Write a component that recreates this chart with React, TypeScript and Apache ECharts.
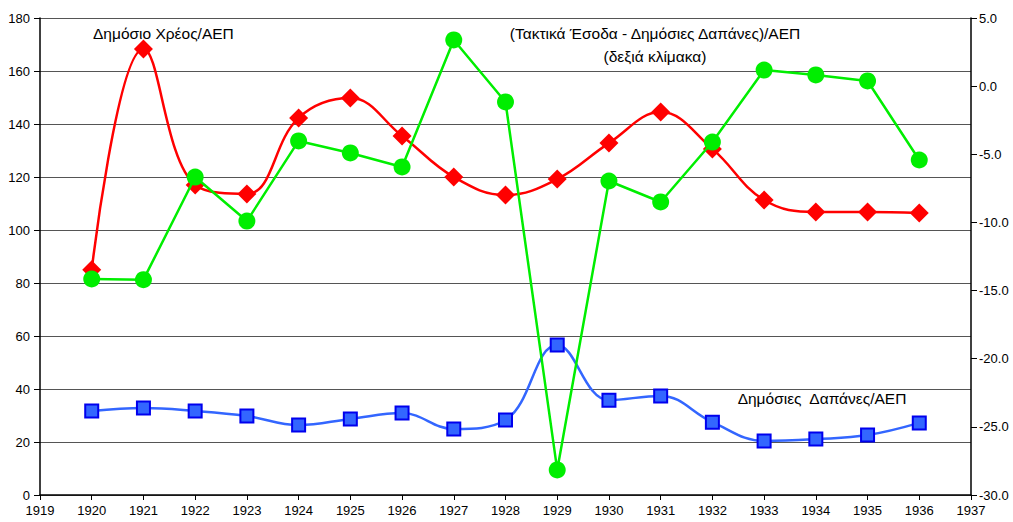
import React, { useEffect, useRef } from "react";
import * as echarts from "echarts";

const years = [1920, 1921, 1922, 1923, 1924, 1925, 1926, 1927, 1928, 1929, 1930, 1931, 1932, 1933, 1934, 1935, 1936];
const debtGdp = [85, 168.3, 117, 113.6, 142.3, 149.8, 135.5, 120, 113.2, 119.2, 132.8, 144.5, 130.6, 111.3, 106.8, 106.8, 106.4];
const spendingGdp = [31.7, 32.8, 31.7, 29.8, 26.4, 28.7, 30.9, 24.9, 28.3, 56.6, 35.8, 37.4, 27.5, 20.4, 21.1, 22.6, 27.2];
const balanceGdp = [-14.15, -14.2, -6.67, -9.9, -4.02, -4.9, -5.93, 3.39, -1.16, -28.16, -6.96, -8.5, -4.1, 1.18, 0.82, 0.38, -5.42];

const labelDebt = "Δημόσιο Χρέος/ΑΕΠ";
const labelBalance1 = "(Τακτικά Έσοδα - Δημόσιες Δαπάνες)/ΑΕΠ";
const labelBalance2 = "(δεξιά κλίμακα)";
const labelSpending = "Δημόσιες  Δαπάνες/ΑΕΠ";

const FONT = "Liberation Sans, Arial, sans-serif";

export default function App() {
  const ref = useRef<HTMLDivElement>(null);
  useEffect(() => {
    if (!ref.current) return;
    const chart = echarts.init(ref.current, undefined, { renderer: "svg" });
    const pair = (vals: number[]) => years.map((y, i) => [y, vals[i]]);
    chart.setOption({
      animation: false,
      backgroundColor: "#ffffff",
      textStyle: { fontFamily: FONT },
      grid: { left: 40, right: 42, top: 18, bottom: 27, containLabel: false },
      xAxis: {
        type: "value",
        min: 1919,
        max: 1937,
        interval: 1,
        axisLine: { show: true, lineStyle: { color: "#000", width: 1.5 } },
        axisTick: { show: true, length: 5, lineStyle: { color: "#000" } },
        axisLabel: { color: "#000", fontSize: 13, fontFamily: FONT, margin: 9, formatter: (v: number) => String(v) },
        splitLine: { show: false },
      },
      yAxis: [
        {
          type: "value",
          min: 0,
          max: 180,
          interval: 20,
          axisLine: { show: true, lineStyle: { color: "#000", width: 1.5 } },
          axisTick: { show: true, length: 6, lineStyle: { color: "#000" } },
          axisLabel: { color: "#000", fontSize: 13, fontFamily: FONT, margin: 10 },
          splitLine: { show: true, lineStyle: { color: "#555", width: 1.2 } },
        },
        {
          type: "value",
          min: -30,
          max: 5,
          interval: 5,
          position: "right",
          axisLine: { show: true, lineStyle: { color: "#000", width: 1.5 } },
          axisTick: { show: true, length: 6, lineStyle: { color: "#000" } },
          axisLabel: { color: "#000", fontSize: 13, fontFamily: FONT, margin: 8, formatter: (v: number) => v.toFixed(1) },
          splitLine: { show: false },
        },
      ],
      series: [
        {
          name: labelSpending,
          type: "line",
          yAxisIndex: 0,
          data: pair(spendingGdp),
          smooth: 0.4,
          symbol: "rect",
          symbolSize: 13,
          lineStyle: { color: "#3366ff", width: 2.5 },
          itemStyle: { color: "#3366ff", borderColor: "#0000ee", borderWidth: 2 },
          z: 2,
        },
        {
          name: labelDebt,
          type: "line",
          yAxisIndex: 0,
          data: pair(debtGdp),
          smooth: 0.4,
          symbol: "diamond",
          symbolSize: 19,
          lineStyle: { color: "#ff0000", width: 2.5 },
          itemStyle: { color: "#ff0000" },
          z: 3,
        },
        {
          name: labelBalance1,
          type: "line",
          yAxisIndex: 1,
          data: pair(balanceGdp),
          smooth: false,
          symbol: "circle",
          symbolSize: 17,
          lineStyle: { color: "#00ee00", width: 2.5 },
          itemStyle: { color: "#00ee00" },
          z: 4,
        },
      ],
      graphic: [
        { type: "text", x: 93, y: 33, style: { text: labelDebt, fontSize: 15.5, fontFamily: FONT, fill: "#000", verticalAlign: "middle" } },
        { type: "text", x: 655, y: 33, style: { text: labelBalance1, fontSize: 15.5, fontFamily: FONT, fill: "#000", align: "center", verticalAlign: "middle" } },
        { type: "text", x: 655, y: 56, style: { text: labelBalance2, fontSize: 15.5, fontFamily: FONT, fill: "#000", align: "center", verticalAlign: "middle" } },
        { type: "text", x: 822, y: 398, style: { text: labelSpending, fontSize: 15.5, fontFamily: FONT, fill: "#000", align: "center", verticalAlign: "middle" } },
      ],
    });
    return () => chart.dispose();
  }, []);
  return <div ref={ref} style={{ width: 1013, height: 522, position: "absolute", left: 0, top: 0 }} />;
}
